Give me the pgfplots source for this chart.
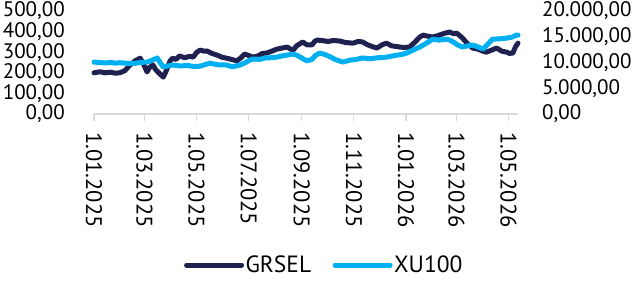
\documentclass[border=0pt]{standalone}
\usepackage{fontspec}
\setmainfont{PT Sans}
\usepackage{pgfplots}
\pgfplotsset{compat=1.18}
\definecolor{navy}{HTML}{1F2251}
\definecolor{lblue}{HTML}{00B0F0}
\definecolor{axgray}{HTML}{D9D9D9}
\begin{document}
\begin{tikzpicture}
\path[use as bounding box] (0,0) rectangle (639pt,-286pt);
\pgfplotsset{
  every axis/.append style={font=\fontsize{21}{25}\selectfont},
  /pgf/number format/.cd, fixed, fixed zerofill, precision=2, use comma, 1000 sep={.}, assume math mode=true,
}
\begin{axis}[
  at={(94pt,-114pt)}, anchor=south west,
  scale only axis, width=424pt, height=103pt,
  xmin=0, xmax=496, ymin=0, ymax=500,
  axis x line*=bottom, axis y line*=left,
  x axis line style={draw=axgray, line width=1.2pt},
  y axis line style={draw=none},
  tick align=outside, major tick length=7pt,
  xtick={0,59,120,181,243,304,365,424,485},
  xticklabels={1.01.2025,1.03.2025,1.05.2025,1.07.2025,1.09.2025,1.11.2025,1.01.2026,1.03.2026,1.05.2026},
  x tick style={draw=axgray, line width=1.2pt},
  x tick label style={rotate=-90, anchor=west, inner sep=0pt, xshift=11pt, font=\fontsize{22.5}{26}\selectfont},
  ytick={0,100,200,300,400,500},
  y tick style={draw=none},
  y tick label style={anchor=east, inner sep=0pt, xshift=-22pt},
  clip=false,
]
\addplot[navy, line width=5pt, line join=round, line cap=round] coordinates {
(0,200) (7,205) (13,200) (19,203) (25,198) (30,200) (36,210) (42,237) (48,258) (54,271)
(58,242) (62,204) (65,226) (69,238) (72,216) (77,195) (81,179) (84,205) (89,258) (92,271)
(96,265) (100,282) (106,273) (112,280) (116,276) (120,299) (124,310) (129,305) (132,306) (138,294)
(144,286) (150,275) (155,271) (161,265) (167,258) (172,273) (176,291) (181,284) (186,276) (192,282)
(197,294) (202,296) (208,305) (214,315) (220,320) (226,325) (229,317) (233,310) (237,331) (241,341)
(244,350) (249,336) (255,335) (258,352) (261,359) (266,357) (274,352) (280,357) (288,354) (294,347)
(303,344) (309,352) (314,350) (320,336) (325,328) (331,320) (337,336) (342,344) (348,331) (353,328)
(358,325) (363,323) (369,325) (375,347) (381,373) (385,383) (390,378) (396,374) (402,380) (408,389)
(412,394) (416,398) (421,389) (424,393) (428,380) (431,369) (437,341) (443,320) (449,315) (455,305)
(459,300) (465,310) (471,320) (477,305) (483,300) (486,294) (490,296) (493,326) (496,344)
};
\end{axis}
\begin{axis}[
  at={(94pt,-114pt)}, anchor=south west,
  scale only axis, width=424pt, height=103pt,
  xmin=0, xmax=496, ymin=0, ymax=20000,
  axis x line=none, axis y line*=right,
  y axis line style={draw=none},
  ytick={0,5000,10000,15000,20000},
  scaled y ticks=false,
  y tick style={draw=none},
  y tick label style={anchor=west, inner sep=0pt, xshift=24pt},
  clip=false,
  legend columns=2,
  legend style={draw=none, fill=none, at={(0.5425,-1.466)}, anchor=center,
    font=\fontsize{23.5}{28}\selectfont,
    /tikz/every even column/.append style={column sep=20pt},
    nodes={inner sep=1.5pt}},
  legend cell align=left,
  legend image code/.code={\draw[#1] (0pt,0pt) -- (55pt,0pt);},
]
\addlegendimage{navy, line width=5pt, line cap=round}
\addlegendentry{GRSEL}
\addplot[lblue, line width=5pt, line join=round, line cap=round] coordinates {
(0,10080) (7,10000) (13,9920) (19,10000) (25,9880) (30,9960) (36,9880) (42,9800) (48,9840) (54,10000)
(62,10080) (68,10440) (74,10880) (77,10080) (81,9120) (86,9320) (92,9520) (101,9320) (109,9440) (116,9240)
(124,9280) (130,9600) (136,9880) (141,9680) (147,9520) (155,9520) (162,9160) (171,9520) (176,9880) (182,10440)
(186,10680) (194,10600) (200,10880) (206,10920) (214,11040) (220,11280) (226,11440) (233,11640) (238,11360) (243,10880)
(249,10320) (255,10600) (259,11360) (264,11840) (270,11560) (276,11120) (283,10520) (291,10080) (299,10440) (307,10600)
(314,10880) (323,10720) (332,10920) (342,11040) (352,11360) (360,11560) (366,11840) (373,12400) (381,13000) (389,13760)
(396,14520) (404,14360) (413,14520) (416,14360) (420,14000) (425,13440) (431,13000) (437,13240) (443,13400) (449,13040)
(455,12600) (460,13440) (466,14520) (474,14600) (482,14720) (489,14920) (494,15320) (496,15320)
};
\addlegendentry{XU100}
\end{axis}
\end{tikzpicture}
\end{document}
